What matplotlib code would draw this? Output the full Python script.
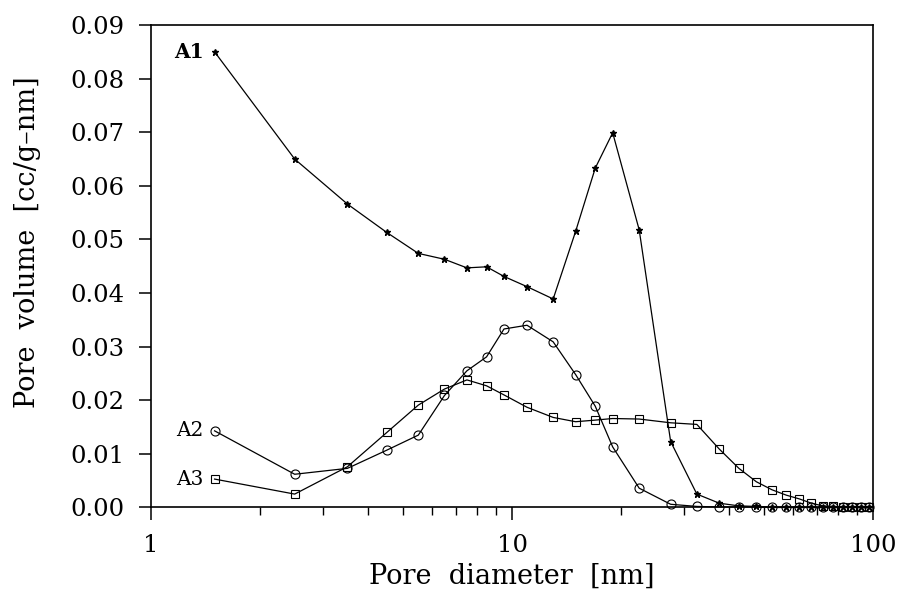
import numpy as np
import matplotlib
matplotlib.use("Agg")
import matplotlib.pyplot as plt
from matplotlib.ticker import FixedLocator, FormatStrFormatter, LogLocator, NullFormatter

plt.rcParams["font.family"] = "DejaVu Serif"
plt.rcParams["font.size"] = 17.5

# ---- data
diameter = [1.5, 2.5, 3.5, 4.5, 5.5, 6.5, 7.5, 8.5, 9.5, 11, 13, 15, 17, 19, 22.5,
            27.5, 32.5, 37.5, 42.5, 47.5, 52.5, 57.5, 62.5, 67.5, 72.5, 77.5,
            82.5, 87.5, 92.5, 97.5]

a1 = [0.0850, 0.0650, 0.0566, 0.0513, 0.0474, 0.0463, 0.0447, 0.0449, 0.0431,
      0.0412, 0.0389, 0.0515, 0.0633, 0.0699, 0.0518, 0.0123, 0.0025, 0.0008,
      0.0003, 0.0002, 0.0001, 0.0001, 0.0001, 0.0000, 0.0000, 0.0000, 0.0000,
      0.0000, 0.0000, 0.0000]

a2 = [0.0143, 0.0062, 0.0073, 0.0107, 0.0135, 0.0209, 0.0255, 0.0281, 0.0333,
      0.0340, 0.0309, 0.0248, 0.0189, 0.0113, 0.0036, 0.0006, 0.0002, 0.0001,
      0.0001, 0.0001, 0.0000, 0.0000, 0.0000, 0.0000, 0.0000, 0.0000, 0.0000,
      0.0000, 0.0000, 0.0000]

a3 = [0.0053, 0.0025, 0.0076, 0.0140, 0.0191, 0.0221, 0.0238, 0.0227, 0.0210,
      0.0187, 0.0168, 0.0160, 0.0163, 0.0166, 0.0165, 0.0158, 0.0155, 0.0109,
      0.0073, 0.0048, 0.0033, 0.0023, 0.0016, 0.0008, 0.0003, 0.0002, 0.0001,
      0.0001, 0.0001, 0.0001]

y_ticks = [0.00, 0.01, 0.02, 0.03, 0.04, 0.05, 0.06, 0.07, 0.08, 0.09]
x_ticks = [1, 10, 100]
x_tick_labels = ["1", "10", "100"]

# ---- figure
fig = plt.figure(figsize=(9.01, 5.96), dpi=100)
ax = fig.add_axes([0.1676, 0.1485, 0.8014, 0.8095])

ax.plot(diameter, a1, color="black", lw=0.9, marker="*", ms=4.5,
        mfc="black", mec="black", clip_on=False, zorder=3)
ax.plot(diameter, a2, color="black", lw=0.9, marker="o", ms=6.5,
        mfc="none", mec="black", mew=0.8, clip_on=False, zorder=3)
ax.plot(diameter, a3, color="black", lw=0.9, marker="s", ms=5.5,
        mfc="none", mec="black", mew=0.8, clip_on=False, zorder=3)

# series names next to the first points
for name, vals, weight in [("A1", a1, "bold"), ("A2", a2, "normal"), ("A3", a3, "normal")]:
    ax.annotate(name, xy=(diameter[0], vals[0]), xytext=(-8, 0),
                textcoords="offset points", ha="right", va="center",
                fontsize=14.5, fontweight=weight)

ax.set_xscale("log")
ax.set_xlim(1, 100)
ax.set_ylim(0, 0.09)

ax.xaxis.set_major_locator(FixedLocator(x_ticks))
ax.set_xticklabels(x_tick_labels)
ax.xaxis.set_minor_locator(LogLocator(base=10, subs=np.arange(2, 10)))
ax.xaxis.set_minor_formatter(NullFormatter())
ax.yaxis.set_major_locator(FixedLocator(y_ticks))
ax.yaxis.set_major_formatter(FormatStrFormatter("%.2f"))

ax.tick_params(axis="both", which="major", direction="out", length=9,
               width=1.1, pad=10)
ax.tick_params(axis="x", which="minor", direction="out", length=6, width=1.0)
ax.tick_params(top=False, right=False, which="both")

for sp in ax.spines.values():
    sp.set_linewidth(1.2)

ax.set_xlabel("Pore  diameter  [nm]", fontsize=19.5, labelpad=4)
ax.set_ylabel("Pore  volume  [cc/g\u2013nm]", fontsize=19.5)
ax.yaxis.set_label_coords(-0.152, 0.55)

fig.savefig("out.png", dpi=100)
